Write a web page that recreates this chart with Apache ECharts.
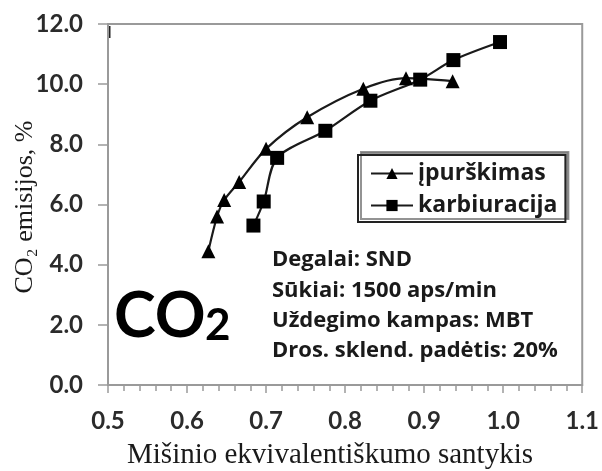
<!DOCTYPE html>
<html>
<head>
<meta charset="utf-8">
<script src="https://cdn.jsdelivr.net/npm/echarts@6/dist/echarts.min.js"></script>
<style>
  html, body { margin: 0; padding: 0; background: #fff; }
  #chart { width: 602px; height: 471px; }
</style>
</head>
<body>
<div id="chart"></div>
<script>
// Equivalence ratio (x) and CO2 emission, % (y) for the two mixture-forming methods
const injectionX = [0.627, 0.638, 0.647, 0.666, 0.700, 0.752, 0.823, 0.877, 0.936];
const injectionY = [4.45, 5.6, 6.15, 6.75, 7.85, 8.9, 9.85, 10.2, 10.1];
const carbX = [0.684, 0.697, 0.714, 0.775, 0.832, 0.895, 0.937, 0.996];
const carbY = [5.3, 6.1, 7.55, 8.45, 9.45, 10.15, 10.8, 11.4];

const seriesNames = ['įpurškimas', 'karbiuracija'];
const xTitle = 'Mišinio ekvivalentiškumo santykis';
const yTitle = 'CO₂ emisijos, %';
const notes = ['Degalai: SND', 'Sūkiai: 1500 aps/min', 'Uždegimo kampas: MBT', 'Dros. sklend. padėtis: 20%'];

const sans = 'Lato, "Open Sans", sans-serif';
const wideSans = '"Open Sans", Lato, sans-serif';
const serif = '"Liberation Serif", "DejaVu Serif", serif';
const ink = '#1a1a1a';
const axisGray = '#9a9a9a';

const zip = (xs, ys) => xs.map((x, i) => [x, ys[i]]);

const chart = echarts.init(document.getElementById('chart'));

const noteY = [260, 291, 321, 351];
const noteGraphics = notes.map((t, i) => ({
  type: 'text',
  x: 272,
  y: noteY[i],
  style: { text: t, font: 'bold 22px ' + wideSans, fill: ink, verticalAlign: 'middle', align: 'left' }
}));

chart.setOption({
  animation: false,
  grid: {
    left: 108, right: 17, top: 24, bottom: 86,
    show: true, borderColor: axisGray, borderWidth: 2
  },
  xAxis: {
    type: 'value', min: 0.5, max: 1.1, interval: 0.1,
    axisLine: { lineStyle: { color: axisGray, width: 2 } },
    axisTick: { show: true, inside: false, length: 8, lineStyle: { color: axisGray, width: 1.5 } },
    minorTick: { show: true, splitNumber: 5, length: 6, lineStyle: { color: axisGray, width: 1.5 } },
    axisLabel: {
      margin: 24, fontFamily: sans, fontWeight: 'bold', fontSize: 24, color: '#2b2b2b',
      formatter: v => v.toFixed(1)
    },
    splitLine: { show: false }
  },
  yAxis: {
    type: 'value', min: 0, max: 12, interval: 2,
    axisLine: { show: true, lineStyle: { color: axisGray, width: 2 } },
    axisTick: { show: true, inside: false, length: 10, lineStyle: { color: axisGray, width: 1.5 } },
    axisLabel: {
      margin: 25, fontFamily: sans, fontWeight: 'bold', fontSize: 24, color: '#2b2b2b',
      formatter: v => v.toFixed(1)
    },
    splitLine: { show: false }
  },
  legend: {
    orient: 'vertical',
    left: 358, top: 155,
    padding: [7, 8, 5, 12],
    itemWidth: 42, itemHeight: 14, itemGap: 9,
    backgroundColor: '#fff',
    borderColor: '#222', borderWidth: 2,
    shadowColor: 'rgba(120,120,120,0.8)', shadowBlur: 0, shadowOffsetX: 3, shadowOffsetY: -3,
    textStyle: { fontFamily: wideSans, fontWeight: 'bold', fontSize: 23, color: ink },
    data: seriesNames
  },
  series: [
    {
      name: seriesNames[0], type: 'line', smooth: 0.3,
      data: zip(injectionX, injectionY),
      symbol: 'triangle', symbolSize: 14,
      lineStyle: { color: ink, width: 2.2 },
      itemStyle: { color: '#000' }
    },
    {
      name: seriesNames[1], type: 'line', smooth: 0.3,
      data: zip(carbX, carbY),
      symbol: 'rect', symbolSize: 14,
      lineStyle: { color: ink, width: 2.2 },
      itemStyle: { color: '#000' }
    }
  ],
  graphic: [
    ...noteGraphics,
    {
      type: 'text', left: 114, top: 285,
      style: { text: 'CO', font: 'bold 63px ' + sans, fill: '#000' }
    },
    {
      type: 'text', left: 205, top: 304,
      style: { text: '2', font: 'bold 44px ' + sans, fill: '#000' }
    },
    {
      type: 'text', x: 330, y: 455,
      style: { text: xTitle, font: '29px ' + serif, fill: ink, align: 'center', verticalAlign: 'middle' }
    },
    {
      type: 'text', x: 25, y: 207, rotation: Math.PI / 2,
      style: { text: yTitle, font: '26px ' + serif, fill: ink, align: 'center', verticalAlign: 'middle' }
    },
    {
      type: 'line',
      shape: { x1: 109.5, y1: 26, x2: 109.5, y2: 38 },
      style: { stroke: '#222', lineWidth: 2 }
    }
  ]
});
</script>
</body>
</html>
